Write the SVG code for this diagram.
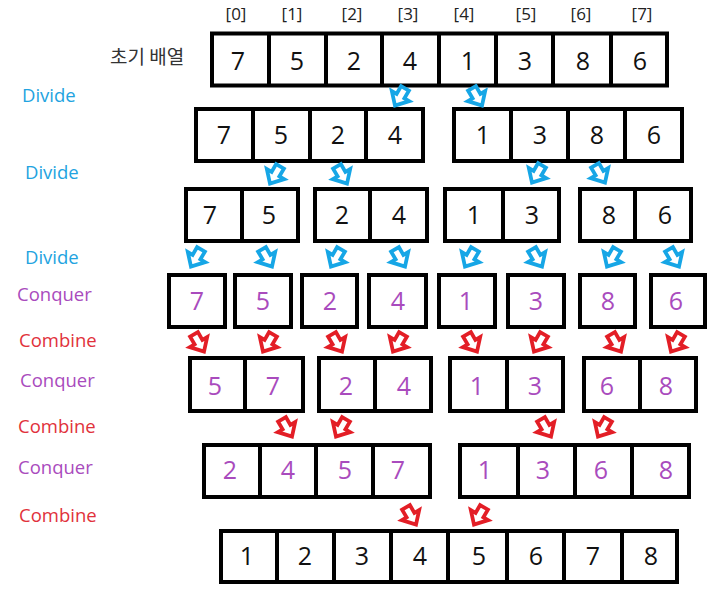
<svg xmlns="http://www.w3.org/2000/svg" xmlns:xlink="http://www.w3.org/1999/xlink" width="710" height="599" viewBox="0 0 710 599">
<style>
.box{fill:#fff;stroke:#000;stroke-width:4}
.div{stroke:#000;stroke-width:4}
.n{font-family:"Open Sans","Noto Sans",sans-serif;font-size:25px;text-anchor:middle;fill:#111}
.p{fill:#a94bbd}
.idx{font-family:"Open Sans","Noto Sans",sans-serif;font-size:17px;text-anchor:middle;fill:#222}
.lab{font-family:"Open Sans","Noto Sans",sans-serif;font-size:18.5px}
.dv{fill:#22a3e0}
.cq{fill:#a94bbd}
.cb{fill:#e1313b}
.kr{font-family:"Noto Sans CJK KR","Noto Sans",sans-serif;font-size:19px;fill:#333}
.ab{fill:#fff;stroke:#16a6e6;stroke-width:3.8}
.ar{fill:#fff;stroke:#e31e26;stroke-width:3.8}
</style>
<defs>
<path id="arr" d="M-4.5,-10 H4.5 V-1 H10 L0,10 L-10,-1 H-4.5 Z"/>
</defs>
<rect width="710" height="599" fill="#fff"/>

<g id="labels">
<text class="idx" x="236" y="20">[0]</text>
<text class="idx" x="292" y="20">[1]</text>
<text class="idx" x="352" y="20">[2]</text>
<text class="idx" x="408" y="20">[3]</text>
<text class="idx" x="464" y="20">[4]</text>
<text class="idx" x="526" y="20">[5]</text>
<text class="idx" x="581" y="20">[6]</text>
<text class="idx" x="642" y="20">[7]</text>
<text class="kr" x="110" y="64">초기 배열</text>
<text class="lab dv" x="22" y="102">Divide</text>
<text class="lab dv" x="25" y="179">Divide</text>
<text class="lab dv" x="25" y="264">Divide</text>
<text class="lab cq" x="17" y="301">Conquer</text>
<text class="lab cb" x="19" y="347">Combine</text>
<text class="lab cq" x="20" y="387">Conquer</text>
<text class="lab cb" x="18" y="433">Combine</text>
<text class="lab cq" x="18" y="474">Conquer</text>
<text class="lab cb" x="19" y="522">Combine</text>
</g>

<g id="row1">
<rect class="box" x="212" y="33.5" width="455" height="52"/>
<path class="div" d="M269,33.5V85.5M326,33.5V85.5M382,33.5V85.5M439,33.5V85.5M496,33.5V85.5M553,33.5V85.5M611,33.5V85.5"/>
<text class="n" x="238" y="70">7</text><text class="n" x="297" y="70">5</text><text class="n" x="354" y="70">2</text><text class="n" x="410" y="70">4</text><text class="n" x="468" y="70">1</text><text class="n" x="525" y="70">3</text><text class="n" x="583" y="70">8</text><text class="n" x="640" y="70">6</text>
</g>

<g id="row2-left">
<rect class="box" x="196" y="109" width="227" height="52"/>
<path class="div" d="M253,109V161M310,109V161M366,109V161"/>
<text class="n" x="224" y="144">7</text><text class="n" x="281" y="144">5</text><text class="n" x="338" y="144">2</text><text class="n" x="395" y="144">4</text>
</g>
<g id="row2-right">
<rect class="box" x="454" y="109" width="228" height="52"/>
<path class="div" d="M511,109V161M568,109V161M625,109V161"/>
<text class="n" x="483" y="144">1</text><text class="n" x="540" y="144">3</text><text class="n" x="597" y="144">8</text><text class="n" x="654" y="144">6</text>
</g>

<g id="row3-a">
<rect class="box" x="186" y="189" width="112" height="52"/>
<path class="div" d="M242,189V241"/>
<text class="n" x="210" y="224">7</text><text class="n" x="269" y="224">5</text>
</g>
<g id="row3-b">
<rect class="box" x="315" y="189" width="112" height="52"/>
<path class="div" d="M370,189V241"/>
<text class="n" x="342" y="224">2</text><text class="n" x="399" y="224">4</text>
</g>
<g id="row3-c">
<rect class="box" x="445" y="189" width="114" height="52"/>
<path class="div" d="M503,189V241"/>
<text class="n" x="474" y="224">1</text><text class="n" x="532" y="224">3</text>
</g>
<g id="row3-d">
<rect class="box" x="580" y="189" width="111" height="52"/>
<path class="div" d="M635,189V241"/>
<text class="n" x="609" y="224">8</text><text class="n" x="665" y="224">6</text>
</g>

<g id="row4-1"><rect class="box" x="169" y="275" width="56" height="52"/><text class="n p" x="197" y="310">7</text></g>
<g id="row4-2"><rect class="box" x="235" y="275" width="56" height="52"/><text class="n p" x="263" y="310">5</text></g>
<g id="row4-3"><rect class="box" x="302" y="275" width="55" height="52"/><text class="n p" x="330" y="310">2</text></g>
<g id="row4-4"><rect class="box" x="369" y="275" width="57" height="52"/><text class="n p" x="398" y="310">4</text></g>
<g id="row4-5"><rect class="box" x="439" y="275" width="56" height="52"/><text class="n p" x="466" y="310">1</text></g>
<g id="row4-6"><rect class="box" x="508" y="275" width="56" height="52"/><text class="n p" x="536" y="310">3</text></g>
<g id="row4-7"><rect class="box" x="580" y="275" width="55" height="52"/><text class="n p" x="608" y="310">8</text></g>
<g id="row4-8"><rect class="box" x="651" y="275" width="54" height="52"/><text class="n p" x="676" y="310">6</text></g>

<g id="row5-a">
<rect class="box" x="190" y="358" width="113" height="53"/>
<path class="div" d="M245,358V411"/>
<text class="n p" x="215" y="395">5</text><text class="n p" x="273" y="395">7</text>
</g>
<g id="row5-b">
<rect class="box" x="319" y="358" width="112" height="53"/>
<path class="div" d="M375,358V411"/>
<text class="n p" x="346" y="395">2</text><text class="n p" x="404" y="395">4</text>
</g>
<g id="row5-c">
<rect class="box" x="450" y="358" width="113" height="53"/>
<path class="div" d="M507,358V411"/>
<text class="n p" x="477" y="395">1</text><text class="n p" x="535" y="395">3</text>
</g>
<g id="row5-d">
<rect class="box" x="584" y="358" width="112" height="53"/>
<path class="div" d="M640,358V411"/>
<text class="n p" x="607" y="395">6</text><text class="n p" x="666" y="395">8</text>
</g>

<g id="row6-left">
<rect class="box" x="204" y="445" width="226" height="52"/>
<path class="div" d="M260,445V497M316,445V497M373,445V497"/>
<text class="n p" x="230" y="479">2</text><text class="n p" x="288" y="479">4</text><text class="n p" x="345" y="479">5</text><text class="n p" x="398" y="479">7</text>
</g>
<g id="row6-right">
<rect class="box" x="460" y="445" width="229" height="52"/>
<path class="div" d="M518,445V497M575,445V497M632,445V497"/>
<text class="n p" x="485" y="479">1</text><text class="n p" x="543" y="479">3</text><text class="n p" x="601" y="479">6</text><text class="n p" x="666" y="479">8</text>
</g>

<g id="row7">
<rect class="box" x="221" y="531" width="456" height="51"/>
<path class="div" d="M277,531V582M334,531V582M391,531V582M448,531V582M507,531V582M564,531V582M622,531V582"/>
<text class="n" x="247" y="565">1</text><text class="n" x="305" y="565">2</text><text class="n" x="362" y="565">3</text><text class="n" x="420" y="565">4</text><text class="n" x="479" y="565">5</text><text class="n" x="536" y="565">6</text><text class="n" x="593" y="565">7</text><text class="n" x="651" y="565">8</text>
</g>

<g id="connectors">
<use href="#arr" class="ab" transform="translate(400,97) rotate(30)"/>
<use href="#arr" class="ab" transform="translate(477,97) rotate(-30)"/>
<use href="#arr" class="ab" transform="translate(275,175) rotate(30)"/>
<use href="#arr" class="ab" transform="translate(342,175) rotate(-30)"/>
<use href="#arr" class="ab" transform="translate(537,174) rotate(30)"/>
<use href="#arr" class="ab" transform="translate(600,174) rotate(-30)"/>
<use href="#arr" class="ab" transform="translate(196,258) rotate(30)"/>
<use href="#arr" class="ab" transform="translate(267,258) rotate(-30)"/>
<use href="#arr" class="ab" transform="translate(336,258) rotate(30)"/>
<use href="#arr" class="ab" transform="translate(400,258) rotate(-30)"/>
<use href="#arr" class="ab" transform="translate(470,258) rotate(30)"/>
<use href="#arr" class="ab" transform="translate(537,258) rotate(-30)"/>
<use href="#arr" class="ab" transform="translate(612,258) rotate(30)"/>
<use href="#arr" class="ab" transform="translate(674,258) rotate(-30)"/>
<use href="#arr" class="ar" transform="translate(199,343) rotate(-30)"/>
<use href="#arr" class="ar" transform="translate(268,343) rotate(30)"/>
<use href="#arr" class="ar" transform="translate(337,343) rotate(-30)"/>
<use href="#arr" class="ar" transform="translate(398,343) rotate(30)"/>
<use href="#arr" class="ar" transform="translate(472,343) rotate(-30)"/>
<use href="#arr" class="ar" transform="translate(539,343) rotate(30)"/>
<use href="#arr" class="ar" transform="translate(616,343) rotate(-30)"/>
<use href="#arr" class="ar" transform="translate(676,343) rotate(30)"/>
<use href="#arr" class="ar" transform="translate(287,428) rotate(-30)"/>
<use href="#arr" class="ar" transform="translate(341,428) rotate(30)"/>
<use href="#arr" class="ar" transform="translate(546,428) rotate(-30)"/>
<use href="#arr" class="ar" transform="translate(603,428) rotate(30)"/>
<use href="#arr" class="ar" transform="translate(411,516) rotate(-30)"/>
<use href="#arr" class="ar" transform="translate(479,516) rotate(30)"/>
</g>
</svg>
